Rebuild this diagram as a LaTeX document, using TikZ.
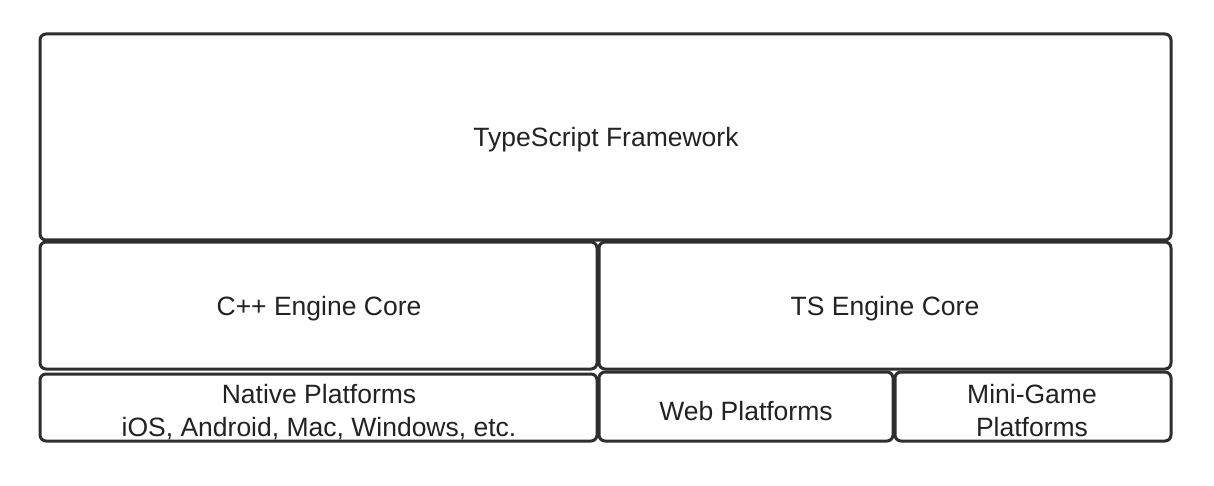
\documentclass[tikz,border=0pt]{standalone}
\usepackage{fontspec}
\setmainfont{Liberation Sans}
\definecolor{edge}{HTML}{2E2E2E}
\definecolor{ink}{HTML}{222222}
\begin{document}
\begin{tikzpicture}[x=1pt,y=-1pt,
  layer/.style={draw=edge,line width=3pt,rounded corners=6pt},
  lbl/.style={text=ink,font=\fontsize{26.5}{33}\selectfont,align=center,inner sep=0pt}]
\useasboundingbox (0,0) rectangle (1214,486);
% stacked architecture layers
\draw[layer] (40,34) rectangle (1171,240);
\draw[layer] (40,242) rectangle (597,369);
\draw[layer] (599,242) rectangle (1171,369);
\draw[layer] (40,374) rectangle (597,441);
\draw[layer] (599,372) rectangle (893,441);
\draw[layer] (895,372) rectangle (1171,441);
% layer labels
\node[lbl] (fw) at (606,140) {TypeScript Framework};
\node[lbl] (cpp) at (319,309) {C++ Engine Core};
\node[lbl] (ts) at (885,309) {TS Engine Core};
\node[lbl] (nat) at (319,412) {Native Platforms\\iOS, Android, Mac, Windows, etc.};
\node[lbl] (web) at (746,411) {Web Platforms};
\node[lbl] (mini) at (1032,411) {Mini-Game\\Platforms};
\end{tikzpicture}
\end{document}
